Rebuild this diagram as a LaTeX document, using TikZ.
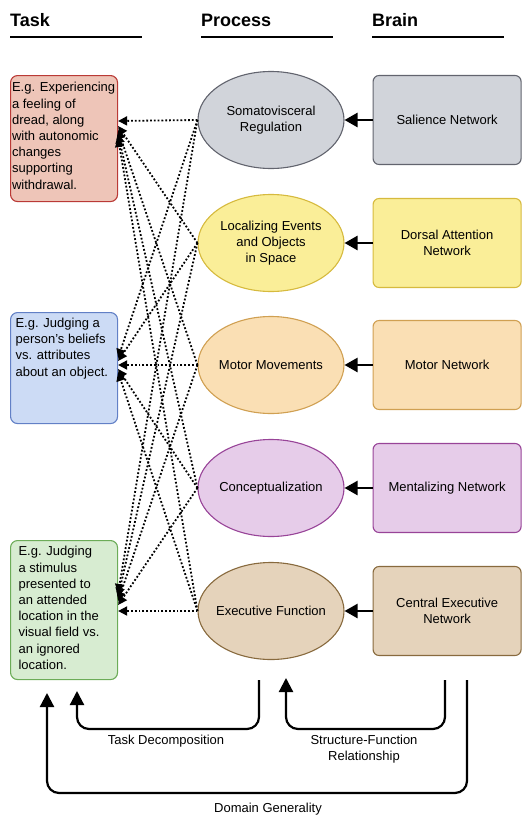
\documentclass[tikz,border=0pt]{standalone}
\usepackage{fontspec}
\setmainfont{Liberation Sans}
\usetikzlibrary{arrows.meta}
\usetikzlibrary{positioning}
\usetikzlibrary{shapes.geometric}
\definecolor{redfill}{RGB}{238,197,184}
\definecolor{redline}{RGB}{186,58,54}
\definecolor{bluefill}{RGB}{204,219,245}
\definecolor{blueline}{RGB}{98,128,198}
\definecolor{greenfill}{RGB}{215,236,209}
\definecolor{greenline}{RGB}{108,172,88}
\definecolor{grayfill}{RGB}{209,212,218}
\definecolor{grayline}{RGB}{98,100,110}
\definecolor{yellowfill}{RGB}{250,238,152}
\definecolor{yellowline}{RGB}{214,186,62}
\definecolor{orangefill}{RGB}{250,223,180}
\definecolor{orangeline}{RGB}{208,160,82}
\definecolor{purplefill}{RGB}{230,204,233}
\definecolor{purpleline}{RGB}{152,68,152}
\definecolor{tanfill}{RGB}{229,211,187}
\definecolor{tanline}{RGB}{136,106,62}
\newcommand{\tasktext}[3]{\parbox[c][#1][t]{#2}{\raggedright #3}}

\begin{document}
\begin{tikzpicture}[
		x=1pt, y=-1pt,
		every node/.style={
			font=\fontsize{13}{16}\selectfont,
			text=black
		},
		header/.style={font=\fontsize{18}{20}\selectfont\bfseries, anchor=base west, inner sep=0pt},
		rule/.style={line width=2pt},
		process/.style={ellipse, draw=#1line, fill=#1fill, line width=1.1pt,
			minimum width=146pt, minimum height=97pt, inner sep=-5pt, align=center},
		brain/.style={rectangle, rounded corners=6pt, draw=#1line, fill=#1fill, line width=1.1pt,
			minimum width=148pt, minimum height=89pt, align=center},
		task/.style={rectangle, rounded corners=7pt, draw=#1line, fill=#1fill, line width=1.1pt,
			anchor=north west, font=\fontsize{13}{16.2}\selectfont},
		dotarrow/.style={-{Triangle[length=9pt,width=9pt]}, line width=1.8pt, dash pattern=on 1.8pt off 2pt},
		feed/.style={-{Triangle[length=13pt,width=14pt]}, line width=2.5pt},
		loopback/.style={-{Triangle[length=14pt,width=14pt]}, line width=2.2pt, rounded corners=12pt},
		label/.style={font=\fontsize{13}{16}\selectfont, align=center}
	]

	\useasboundingbox (0,0) rectangle (530,830);

	% column headers
	\foreach \n/\x/\txt in {Task/10/Task, Process/201/Process, Brain/372/Brain}{
		\node[header] (h\n) at (\x,26) {\txt};
		\draw[rule] (h\n.base west) ++(0,10.5) -- ++(132,0);
	}

	% tasks
	\node[task=red, inner xsep=1.5pt, inner ysep=7pt] (task1) at (10,75)
		{\tasktext{112pt}{104pt}{E.g. Experiencing\\a feeling of\\dread, along\\with autonomic\\changes\\supporting\\withdrawal.}};
	\node[task=blue, inner xsep=5pt, inner ysep=5.5pt] (task2) at (10,312)
		{\tasktext{100pt}{97pt}{E.g. Judging a\\person's beliefs\\vs. attributes\\about an object.}};
	\node[task=green, inner xsep=8pt, inner ysep=6pt] (task3) at (10,540)
		{\tasktext{127pt}{91pt}{E.g. Judging\\a stimulus\\presented to\\an attended\\location in the\\visual field vs.\\an ignored\\location.}};

	% processes and networks
	\foreach \i/\y/\txt/\col in {1/120/{Somatovisceral\\Regulation}/gray,
			2/243/{Localizing Events\\and Objects\\in Space}/yellow,
			3/365/{Motor Movements}/orange,
			4/488/{Conceptualization}/purple,
			5/611/{Executive Function}/tan}{
		\node[process=\col] (proc\i) at (271,\y) {\txt};
	}

	\foreach \i/\txt/\col in {1/{Salience Network}/gray,
			2/{Dorsal Attention\\Network}/yellow,
			3/{Motor Network}/orange,
			4/{Mentalizing Network}/purple,
			5/{Central Executive\\Network}/tan}{
		\node[brain=\col, right=28pt of proc\i] (brain\i) {\txt};
		\draw[feed] (brain\i.west) -- (proc\i.east);
	}

	% every process to every task
	\foreach \p/\t/\y in {1/1/121, 2/1/126, 3/1/130, 4/1/134, 5/1/138,
			1/2/358, 2/2/361, 3/2/365, 4/2/369, 5/2/372,
			1/3/593, 2/3/597, 3/3/601, 4/3/605, 5/3/611}{
		\draw[dotarrow] (proc\p.west) -- (task\t.east |- 0,\y);
	}

	% loops at the bottom
	\coordinate (tdFrom) at (259,680);
	\coordinate (tdTo) at (77,691);
	\coordinate (sfFrom) at (445,680);
	\coordinate (sfTo) at (286,678);
	\coordinate (dgFrom) at (467,680);
	\coordinate (dgTo) at (47,693);

	\draw[loopback] (tdFrom) -- ++(0,49) -| (tdTo);
	\draw[loopback] (sfFrom) -- ++(0,49) -| (sfTo);
	\draw[loopback] (dgFrom) -- ++(0,113) -| (dgTo);

	\node[label] (tdLabel) at (166,741) {Task Decomposition};
	\node[label] (sfLabel) at (364,749) {Structure-Function\\Relationship};
	\node[label] (dgLabel) at (268,809) {Domain Generality};

\end{tikzpicture}
\end{document}
